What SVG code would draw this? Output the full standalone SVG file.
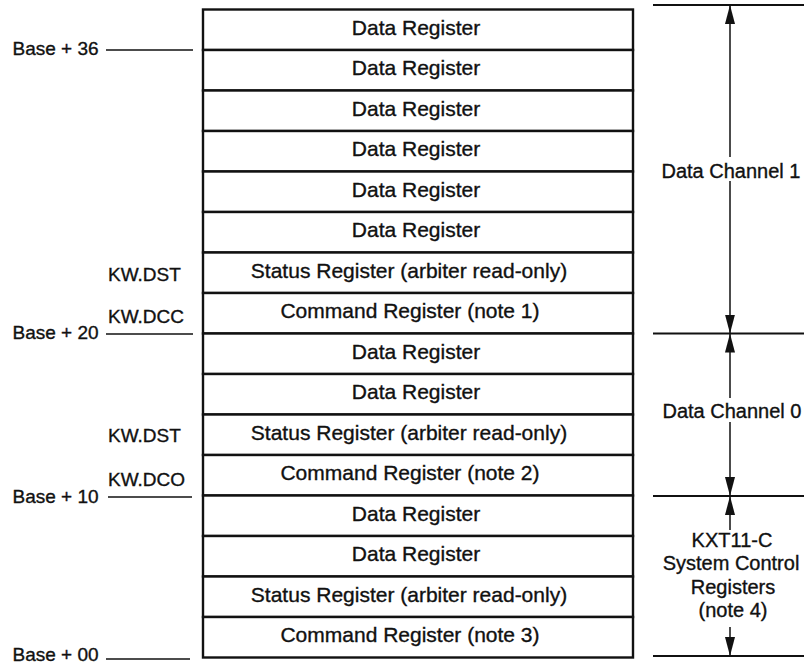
<svg xmlns="http://www.w3.org/2000/svg" width="804" height="666" viewBox="0 0 804 666">
  <style>
    text { font-family: "Liberation Sans", Arial, Helvetica, sans-serif; fill: #111; stroke: #111; stroke-width: 0.35; }
    .reg rect { fill: #fff; stroke: #111; stroke-width: 2.4; }
    .reg text { font-size: 21px; text-anchor: middle; }
    .lbl { font-size: 19px; }
    .side { font-size: 20px; text-anchor: middle; }
    .lead { stroke: #111; stroke-width: 1.6; fill: none; }
    .span { stroke: #111; stroke-width: 2; fill: none; }
    .dim { stroke: #111; stroke-width: 1.5; fill: none; marker-end: url(#tip); }
  </style>
  <defs>
    <marker id="tip" markerUnits="userSpaceOnUse" markerWidth="19" markerHeight="10" refX="19" refY="5" orient="auto">
      <path d="M0,0 L19,5 L0,10 Z" fill="#111"/>
    </marker>
  </defs>

  <rect width="804" height="666" fill="#fff"/>

  <!-- register stack: 16 rows, 40.5 px pitch -->
  <g id="reg-00" class="reg"><rect x="203" y="9.5" width="430" height="40.5"/><text x="416" y="34.5">Data Register</text></g>
  <g id="reg-01" class="reg"><rect x="203" y="50" width="430" height="40.5"/><text x="416" y="75">Data Register</text></g>
  <g id="reg-02" class="reg"><rect x="203" y="90.5" width="430" height="40.5"/><text x="416" y="115.5">Data Register</text></g>
  <g id="reg-03" class="reg"><rect x="203" y="131" width="430" height="40.5"/><text x="416" y="156">Data Register</text></g>
  <g id="reg-04" class="reg"><rect x="203" y="171.5" width="430" height="40.5"/><text x="416" y="196.5">Data Register</text></g>
  <g id="reg-05" class="reg"><rect x="203" y="212" width="430" height="40.5"/><text x="416" y="237">Data Register</text></g>
  <g id="reg-06" class="reg"><rect x="203" y="252.5" width="430" height="40.5"/><text x="409" y="277.5">Status Register (arbiter read-only)</text></g>
  <g id="reg-07" class="reg"><rect x="203" y="293" width="430" height="40.5"/><text x="410" y="318">Command Register (note 1)</text></g>
  <g id="reg-08" class="reg"><rect x="203" y="333.5" width="430" height="40.5"/><text x="416" y="358.5">Data Register</text></g>
  <g id="reg-09" class="reg"><rect x="203" y="374" width="430" height="40.5"/><text x="416" y="399">Data Register</text></g>
  <g id="reg-10" class="reg"><rect x="203" y="414.5" width="430" height="40.5"/><text x="409" y="439.5">Status Register (arbiter read-only)</text></g>
  <g id="reg-11" class="reg"><rect x="203" y="455" width="430" height="40.5"/><text x="410" y="480">Command Register (note 2)</text></g>
  <g id="reg-12" class="reg"><rect x="203" y="495.5" width="430" height="40.5"/><text x="416" y="520.5">Data Register</text></g>
  <g id="reg-13" class="reg"><rect x="203" y="536" width="430" height="40.5"/><text x="416" y="561">Data Register</text></g>
  <g id="reg-14" class="reg"><rect x="203" y="576.5" width="430" height="40.5"/><text x="409" y="601.5">Status Register (arbiter read-only)</text></g>
  <g id="reg-15" class="reg"><rect x="203" y="617" width="430" height="40.5"/><text x="410" y="642">Command Register (note 3)</text></g>

  <!-- address offsets and register mnemonics -->
  <g id="addr-36"><text class="lbl" x="12.5" y="55">Base + 36</text></g>
  <g id="kw-dst-1"><text class="lbl" x="108" y="281">KW.DST</text></g>
  <g id="kw-dcc"><text class="lbl" x="108" y="323">KW.DCC</text></g>
  <g id="addr-20"><text class="lbl" x="12.5" y="339">Base + 20</text></g>
  <g id="kw-dst-0"><text class="lbl" x="108" y="442">KW.DST</text></g>
  <g id="kw-dco"><text class="lbl" x="108" y="486">KW.DCO</text></g>
  <g id="addr-10"><text class="lbl" x="12.5" y="503">Base + 10</text></g>
  <g id="addr-00"><text class="lbl" x="12.5" y="661">Base + 00</text></g>

  <!-- channel span labels -->
  <g id="span-ch1"><text class="side" x="731" y="178">Data Channel 1</text></g>
  <g id="span-ch0"><text class="side" x="732" y="418">Data Channel 0</text></g>
  <g id="span-sys">
    <text class="side" x="732" y="547">KXT11-C</text>
    <text class="side" x="731" y="570">System Control</text>
    <text class="side" x="733" y="594">Registers</text>
    <text class="side" x="733" y="617">(note 4)</text>
  </g>

  <g id="connectors">
    <!-- leaders to the left offsets -->
    <line class="lead" x1="106" y1="50" x2="193" y2="50"/>
    <line class="lead" x1="106" y1="334" x2="193" y2="334"/>
    <line class="lead" x1="108" y1="497" x2="192" y2="497"/>
    <line class="lead" x1="106" y1="659" x2="190" y2="659"/>
    <!-- span boundaries on the right -->
    <line class="span" x1="653" y1="5" x2="804" y2="5"/>
    <line class="span" x1="653" y1="333.5" x2="804" y2="333.5"/>
    <line class="span" x1="653" y1="496" x2="804" y2="496"/>
    <line class="span" x1="653" y1="656" x2="804" y2="656"/>
    <!-- dimension arrows -->
    <path class="dim" d="M730,157 V5"/>
    <path class="dim" d="M730,181 V333.5"/>
    <path class="dim" d="M730,398 V333.5"/>
    <path class="dim" d="M730,422 V496"/>
    <path class="dim" d="M730,530 V496"/>
    <path class="dim" d="M730,627 V656"/>
  </g>
</svg>
